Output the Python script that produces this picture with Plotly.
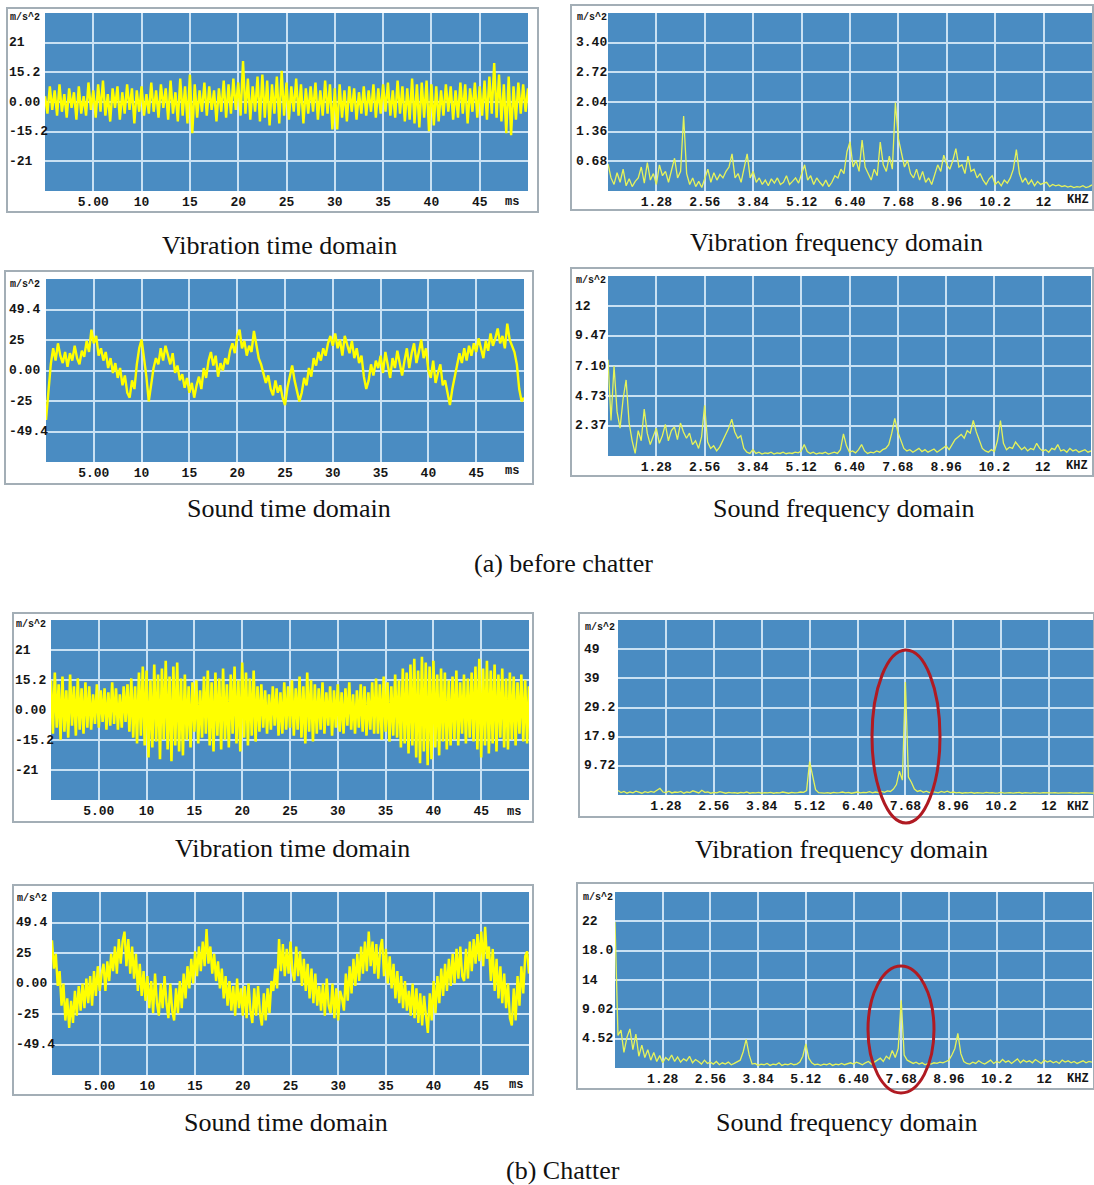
import plotly.graph_objects as go

W, H = 1094, 1185

# ---------------- data ----------------
# (a) before chatter - vibration time domain, 0..50 ms, step 0.25 ms
vib_time_a = [
    3, -6, 8, -4, 6, -7, 9, -5, 4, -8,
    7, -3, 5, -9, 8, -6, 3, -7, 10, -4,
    6, -8, 9, -5, 11, -7, 4, -10, 7, -3,
    8, -9, 5, -6, 9, -4, 7, -11, 6, -5,
    8, -7, 4, -6, 10, -5, 6, -8, 9, -3,
    7, -9, 11, -6, 5, -10, 12, -7, 8, -11,
    14, -16, 9, -8, 6, -5, 10, -7, 8, -4,
    6, -10, 7, -5, 11, -8, 9, -6, 12, -4,
    10, -7, 21, -6, 12, -9, 8, -5, 13, -10,
    14, -8, 11, -12, 9, -6, 13, -11, 16, -7,
    10, -9, 8, -5, 12, -7, 9, -11, 7, -6,
    8, -5, 10, -9, 6, -7, 11, -6, 9, -14,
    7, -14, 9, -8, 6, -10, 8, -5, 7, -9,
    5, -6, 8, -7, 6, -5, 9, -8, 7, -6,
    9, -5, 10, -7, 6, -8, 11, -6, 8, -10,
    7, -9, 12, -11, 9, -13, 10, -8, 11, -15,
    9, -12, 8, -10, 6, -7, 9, -5, 8, -9,
    6, -8, 10, -6, 9, -11, 7, -5, 10, -8,
    8, -7, 11, -9, 13, -6, 20, -8, 14, -10,
    9, -16, 13, -17, 8, -9, 10, -6, 9, -5, 7,
]

# (a) sound time domain, 0..50 ms, step 0.25 ms
sound_time_a = [
    -40, -15, 5, 18, 8, 22, 12, 6, 15, 3,
    14, 8, 20, 10, 5, 16, 11, 24, 15, 33,
    22, 28, 12, 18, 8, 15, 2, 10, -2, 6,
    -6, 2, -12, -4, -18, -22, -8, -15, 5, 18,
    25, 10, -5, -25, -10, 2, 10, 5, 18, 8,
    20, 12, 5, 14, -2, 4, -8, -3, -14, -6,
    -18, -10, -22, -12, -5, -15, 2, -6, 8, 15,
    4, 12, -5, 6, 0, 10, 5, 16, 22, 14,
    28, 33, 18, 24, 12, 20, 15, 32, 20, 10,
    5, -2, -10, -4, -15, -20, -8, -18, -12, -22,
    -28, -14, -5, 4, -8, -16, -25, -18, -6, -12,
    2, -5, 10, 4, 15, 8, 18, 12, 22, 28,
    20, 30, 18, 25, 12, 28, 20, 14, 24, 10,
    18, 6, 12, -5, -15, -8, 5, -4, 8, 2,
    12, -2, 15, 4, -6, 10, 2, 16, 5, -4,
    8, 18, 2, 14, 22, 6, 15, 25, 10, 18,
    0, -6, 8, -10, -2, 5, -12, -8, -18, -28,
    -15, -5, 2, 14, 6, 18, 8, 20, 12, 22,
    15, 26, 18, 10, 24, 16, 30, 20, 26, 34,
    22, 28, 18, 38, 25, 20, 15, 5, -15, -25, -22,
]

# (a) vibration frequency domain, 0..12.8 kHz, step 0.08 kHz
vib_freq_a = [
    0.62, 0.30, 0.15, 0.42, 0.20, 0.50, 0.12, 0.28, 0.10, 0.22,
    0.30, 0.55, 0.18, 0.65, 0.25, 0.40, 0.15, 0.60, 0.35, 0.45,
    0.20, 0.50, 0.75, 0.30, 0.45, 1.72, 0.40, 0.15, 0.30, 0.10,
    0.22, 0.08, 0.30, 0.50, 0.20, 0.42, 0.25, 0.38, 0.30, 0.45,
    0.55, 0.85, 0.30, 0.40, 0.20, 0.55, 0.85, 0.30, 0.45, 0.20,
    0.30, 0.15, 0.25, 0.12, 0.28, 0.18, 0.30, 0.15, 0.20, 0.35,
    0.15, 0.22, 0.30, 0.18, 0.40, 0.60, 0.25, 0.35, 0.15, 0.30,
    0.20, 0.12, 0.25, 0.10, 0.20, 0.35, 0.30, 0.50, 0.40, 0.90,
    1.13, 0.55, 0.70, 0.45, 1.17, 0.55, 0.40, 0.25, 0.50, 0.35,
    1.12, 0.60, 0.45, 0.80, 0.50, 2.03, 1.20, 0.85, 0.55, 0.70,
    0.40, 0.30, 0.50, 0.25, 0.45, 0.20, 0.30, 0.15, 0.40, 0.60,
    0.45, 0.82, 0.60, 0.50, 0.70, 0.97, 0.55, 0.60, 0.40, 0.80,
    0.45, 0.50, 0.30, 0.40, 0.25, 0.15, 0.28, 0.35, 0.15, 0.22,
    0.12, 0.25, 0.18, 0.30, 0.50, 0.95, 0.40, 0.20, 0.30, 0.15,
    0.25, 0.12, 0.22, 0.15, 0.18, 0.20, 0.10, 0.15, 0.12, 0.14,
    0.10, 0.12, 0.09, 0.11, 0.08, 0.10, 0.09, 0.12, 0.08, 0.10, 0.14,
]

# (a) sound frequency domain, 0..12.8 kHz, step 0.08 kHz
sound_freq_a = [
    7.6, 2.8, 7.1, 3.5, 2.2, 4.5, 6.0, 2.6, 1.2, 0.2,
    2.0, 1.2, 3.7, 1.8, 0.9, 1.5, 2.2, 1.0, 1.6, 2.5,
    1.2, 2.0, 2.3, 1.3, 2.6, 1.9, 1.4, 1.8, 0.9, 1.2,
    0.6, 1.5, 4.0, 1.1, 0.6, 0.8, 0.4, 0.7, 1.2, 1.8,
    2.2, 2.9, 1.9, 1.4, 1.6, 0.6, 0.3, 0.2, 0.5, 0.2,
    0.3, 0.15, 0.25, 0.2, 0.3, 0.15, 0.25, 0.2, 0.3, 0.18,
    0.25, 0.2, 0.3, 0.25, 0.4, 0.9, 0.35, 0.2, 0.3, 0.15,
    0.25, 0.2, 0.3, 0.15, 0.25, 0.3, 0.2, 0.5, 1.75, 0.8,
    0.3, 0.4, 0.25, 0.5, 0.9, 0.4, 0.2, 0.3, 0.25, 0.4,
    0.3, 0.5, 0.6, 0.9, 1.8, 2.96, 1.9, 1.2, 0.6, 0.4,
    0.5, 0.3, 0.45, 0.6, 0.35, 0.5, 0.3, 0.4, 0.55, 0.3,
    0.45, 0.6, 0.8, 0.5, 0.9, 1.3, 1.5, 1.7, 1.4, 2.0,
    1.8, 2.8, 1.9, 1.2, 0.6, 0.4, 0.3, 0.5, 0.35, 1.2,
    2.8, 1.0, 0.5, 0.7, 0.6, 1.1, 0.8, 0.5, 0.7, 0.4,
    0.6, 0.5, 1.0, 0.6, 0.4, 0.5, 0.3, 0.6, 0.5, 0.9,
    0.4, 0.5, 0.3, 0.6, 0.4, 0.5, 0.3, 0.4, 0.5, 0.3, 0.4,
]

# (b) chatter - vibration time domain, 0..50 ms, step 0.2 ms
vib_time_b = [
    15, -12, 19, -9, 13, -15, 17, -11, 10, -14,
    18, -8, 12, -13, 16, -10, 11, -12, 14, -9,
    12, -10, 8, -7, 13, -9, 10, -6, 11, -10,
    9, -8, 14, -7, 11, -10, 8, -9, 12, -6,
    13, -11, 16, -14, 12, -17, 19, -13, 22, -18,
    20, -24, 15, -19, 23, -16, 18, -25, 21, -15,
    25, -20, 17, -26, 22, -18, 24, -21, 16, -23,
    18, -15, 12, -19, 14, -11, 15, -17, 10, -14,
    17, -12, 20, -18, 14, -21, 19, -13, 16, -20,
    21, -15, 13, -19, 18, -12, 22, -17, 15, -21,
    24, -14, 19, -18, 16, -13, 20, -16, 12, -11,
    13, -9, 10, -12, 8, -10, 12, -8, 11, -13,
    9, -12, 14, -10, 12, -9, 15, -13, 11, -10,
    17, -14, 12, -17, 19, -11, 15, -16, 13, -12,
    11, -10, 14, -12, 9, -8, 12, -13, 10, -9,
    13, -11, 9, -12, 11, -8, 14, -10, 8, -12,
    10, -9, 13, -11, 12, -13, 9, -10, 14, -12,
    16, -12, 13, -15, 17, -11, 14, -16, 12, -13,
    18, -14, 15, -19, 21, -17, 19, -22, 23, -18,
    26, -24, 20, -27, 27, -21, 24, -28, 22, -25,
    25, -19, 18, -23, 21, -16, 19, -20, 15, -18,
    17, -15, 20, -18, 14, -12, 18, -17, 16, -14,
    19, -16, 22, -20, 26, -24, 21, -18, 25, -22,
    20, -17, 23, -21, 18, -14, 21, -19, 16, -20,
    19, -15, 17, -18, 14, -12, 18, -16, 15, -17, 12,
]

# (b) sound time domain, 0..50 ms, step 0.2 ms
sound_time_b = [
    35, 12, 24, -2, 10, -18, 0, -30, -12, -36,
    -14, -32, -6, -26, -2, -22, 0, -20, 4, -16,
    6, -18, 10, -10, 14, -6, 8, 16, -6, 18,
    2, 24, 10, 30, 8, 36, 16, 34, 42, 14,
    36, 8, 30, 4, 24, -6, 16, -10, 10, -14,
    6, -20, 2, -24, 8, -16, -26, 0, -20, 6,
    -16, -28, 0, -22, -30, -4, -24, 2, -20, 8,
    -12, 14, -4, 20, 0, 26, 6, 30, 10, 34,
    14, 44, 16, 30, 8, 24, 2, 18, -4, 12,
    -12, 6, -18, 2, -22, -2, -26, 4, -20, -4,
    -26, -2, -28, 0, -22, -32, -4, -26, -2, -24,
    -34, -8, -30, -4, -24, 2, -6, 12, -4, 36,
    10, 32, 6, 28, 8, 34, 10, 2, 30, 6,
    26, -2, 20, -6, 16, -12, 12, -16, 8, -18,
    -2, -22, 0, -26, 4, -18, -24, 0, -28, -4,
    -30, -6, -12, -22, 8, -14, 14, -8, 20, -2,
    24, 2, 30, 8, 34, 10, 42, 14, 34, 8,
    32, 4, 28, 36, 6, 28, 0, 22, -4, 16,
    -12, 10, -16, 6, -20, 2, -22, -6, -26, 0,
    -28, -4, -32, -8, -34, -10, -26, -40, -8, -30,
    2, -24, 6, -16, 12, -10, 16, -6, 20, -2,
    24, 0, 28, 4, 30, 6, 2, 28, 4, 34,
    10, 36, 16, 40, 18, 42, 14, 46, 20, 30,
    2, 28, -6, 20, -12, 14, -16, 8, -20, 0,
    -28, -34, -4, -30, 6, -18, 14, -8, 22, 26, 8,
]

# (b) vibration frequency domain, 0..12.8 kHz, step 0.08 kHz
vib_freq_b = [
    1.5, 0.8, 1.2, 0.6, 1.0, 0.7, 1.3, 0.9, 0.6, 1.1,
    0.8, 1.2, 0.9, 1.6, 2.2, 1.0, 0.8, 1.3, 0.7, 1.0,
    0.9, 1.2, 0.6, 1.0, 0.8, 1.4, 1.1, 0.7, 1.6, 0.9,
    1.0, 0.6, 0.9, 0.7, 1.1, 0.8, 0.6, 0.9, 0.7, 0.8,
    0.6, 0.9, 0.7, 1.0, 0.6, 0.8, 0.7, 0.9, 0.6, 0.8,
    0.7, 0.9, 0.6, 0.8, 0.7, 1.0, 0.8, 0.6, 0.9, 0.7,
    0.8, 1.0, 0.9, 1.5, 11.2, 7.0, 1.8, 0.8, 0.7, 0.6,
    0.8, 0.6, 0.9, 0.7, 0.8, 1.0, 0.7, 0.9, 0.6, 0.8,
    1.0, 0.7, 0.9, 0.8, 1.1, 0.7, 1.0, 0.8, 1.2, 0.9,
    1.4, 1.2, 2.0, 3.5, 8.0, 5.0, 38.0, 6.0, 4.3, 2.0,
    1.2, 1.5, 0.9, 1.3, 0.8, 1.1, 1.0, 0.7, 1.2, 0.9,
    1.3, 0.8, 1.0, 0.7, 0.9, 0.6, 0.8, 0.7, 0.9, 0.6,
    0.8, 0.7, 0.6, 0.9, 0.7, 0.8, 0.6, 0.7, 0.9, 0.6,
    0.7, 0.8, 0.6, 0.7, 0.9, 0.6, 0.8, 0.7, 0.6, 0.8,
    0.7, 0.6, 0.8, 0.7, 0.6, 0.7, 0.8, 0.6, 0.7, 0.6,
    0.7, 0.8, 0.6, 0.7, 0.6, 0.8, 0.7, 0.6, 0.7, 0.6, 0.7,
]

# (b) sound frequency domain, 0..12.8 kHz, step 0.08 kHz
sound_freq_b = [
    22.4, 5.0, 5.8, 2.4, 4.7, 6.0, 2.8, 5.2, 1.8, 3.5,
    1.6, 2.8, 1.2, 2.4, 1.0, 1.9, 0.8, 1.6, 1.2, 2.0,
    1.0, 1.7, 0.9, 1.4, 1.1, 1.8, 0.8, 1.3, 1.0, 0.6,
    1.2, 0.7, 0.9, 0.6, 1.0, 0.5, 0.8, 0.6, 0.9, 0.5,
    0.7, 0.9, 1.2, 2.5, 4.4, 2.0, 0.6, 0.7, 0.4, 0.6,
    0.5, 0.7, 0.4, 0.6, 0.5, 0.8, 0.4, 0.6, 0.5, 0.7,
    0.5, 0.6, 0.9, 1.8, 3.7, 1.5, 0.8, 0.5, 0.6, 0.4,
    0.6, 0.5, 0.7, 0.4, 0.6, 0.5, 0.7, 0.5, 0.6, 0.8,
    0.6, 0.9, 0.7, 0.5, 0.8, 1.0, 0.6, 0.9, 1.2, 1.5,
    1.0, 1.8, 1.4, 2.7, 1.6, 3.0, 10.4, 2.0, 1.2, 0.9,
    0.7, 0.9, 0.6, 0.8, 0.5, 0.7, 0.6, 0.8, 0.7, 0.9,
    0.8, 1.0, 1.2, 2.0, 3.0, 5.3, 2.2, 1.0, 0.7, 0.6,
    0.9, 0.7, 1.1, 0.8, 0.6, 0.9, 1.2, 0.7, 1.0, 0.8,
    1.3, 0.9, 1.1, 0.7, 1.0, 1.4, 0.8, 1.2, 0.9, 1.1,
    0.8, 1.3, 1.0, 0.7, 1.2, 0.9, 1.1, 0.8, 1.0, 0.7,
    1.2, 0.9, 1.1, 0.8, 1.0, 0.7, 0.9, 1.1, 0.8, 1.0, 0.9,
]

# tick values / labels
time_ticks = [5, 10, 15, 20, 25, 30, 35, 40, 45]
time_ticktext = ["5.00", "10", "15", "20", "25", "30", "35", "40", "45"]
freq_ticks = [1.28, 2.56, 3.84, 5.12, 6.40, 7.68, 8.96, 10.24, 11.52]
freq_ticktext = ["1.28", "2.56", "3.84", "5.12", "6.40", "7.68", "8.96", "10.2", "12"]

vib_time_yticks = [30.4, 15.2, 0, -15.2, -30.4]
vib_time_ylabels = ["21", "15.2", "0.00", "-15.2", "-21"]
sound_time_yticks = [49.4, 24.7, 0, -24.7, -49.4]
sound_time_ylabels = ["49.4", "25", "0.00", "-25", "-49.4"]
vib_freq_a_yticks = [3.40, 2.72, 2.04, 1.36, 0.68]
vib_freq_a_ylabels = ["3.40", "2.72", "2.04", "1.36", "0.68"]
sound_freq_a_yticks = [11.83, 9.47, 7.10, 4.73, 2.37]
sound_freq_a_ylabels = ["12", "9.47", "7.10", "4.73", "2.37"]
vib_freq_b_yticks = [49.0, 39.2, 29.4, 19.6, 9.8]
vib_freq_b_ylabels = ["49", "39", "29.2", "17.9", "9.72"]
sound_freq_b_yticks = [22.5, 18.0, 13.5, 9.0, 4.5]
sound_freq_b_ylabels = ["22", "18.0", "14", "9.02", "4.52"]

captions = [
    ("Vibration time domain", 279, 245),
    ("Vibration frequency domain", 836, 243),
    ("Sound time domain", 289, 508),
    ("Sound frequency domain", 843, 508),
    ("(a) before chatter", 563, 563),
    ("Vibration time domain", 292, 848),
    ("Vibration frequency domain", 841, 849),
    ("Sound time domain", 286, 1122),
    ("Sound frequency domain", 846, 1122),
    ("(b) Chatter", 563, 1170),
]

# ---------------- layout / style ----------------
BLUE = "#4a8cc2"
GRID = "#c9e1f3"
YELLOW_T = "#ffff00"
YELLOW_F = "#e6f35a"
MONO = "Liberation Mono, DejaVu Sans Mono, monospace"
SERIF = "Liberation Serif, Times New Roman, serif"


def fx(p):
    return p / W


def fy(p):
    return 1 - p / H


panels = [
    dict(y=vib_time_a, dx=0.25, kind="t", blue=(45, 13, 528, 191), border=(7, 8, 538, 212),
         yr=[-45.6, 45.6], yt=vib_time_yticks, yl=vib_time_ylabels, lx=7, uy=17,
         xr=[0, 50], ux=512, uyb=202, lw=2.4),
    dict(y=vib_freq_a, dx=0.08, kind="f", blue=(608, 13, 1092, 191), border=(571, 5, 1093, 210),
         yr=[0, 4.08], yt=vib_freq_a_yticks, yl=vib_freq_a_ylabels, lx=574, uy=17,
         xr=[0, 12.8], ux=1078, uyb=200, lw=1.3),
    dict(y=sound_time_a, dx=0.25, kind="t", blue=(46, 279, 524, 462), border=(5, 271, 533, 484),
         yr=[-74.1, 74.1], yt=sound_time_yticks, yl=sound_time_ylabels, lx=7, uy=284,
         xr=[0, 50], ux=512, uyb=471, lw=2.4),
    dict(y=sound_freq_a, dx=0.08, kind="f", blue=(608, 276, 1091, 456), border=(571, 268, 1093, 476),
         yr=[0, 14.2], yt=sound_freq_a_yticks, yl=sound_freq_a_ylabels, lx=573, uy=281,
         xr=[0, 12.8], ux=1077, uyb=466, lw=1.3),
    dict(y=vib_time_b, dx=0.2, kind="t", blue=(51, 620, 529, 800), border=(13, 613, 533, 822),
         yr=[-45.6, 45.6], yt=vib_time_yticks, yl=vib_time_ylabels, lx=13, uy=624,
         xr=[0, 50], ux=514, uyb=812, lw=2.6),
    dict(y=vib_freq_b, dx=0.08, kind="f", blue=(618, 620, 1094, 795), border=(579, 613, 1094, 817),
         yr=[0, 58.8], yt=vib_freq_b_yticks, yl=vib_freq_b_ylabels, lx=582, uy=627,
         xr=[0, 12.72], ux=1078, uyb=807, lw=1.3),
    dict(y=sound_time_b, dx=0.2, kind="t", blue=(52, 892, 529, 1075), border=(13, 885, 533, 1095),
         yr=[-74.1, 74.1], yt=sound_time_yticks, yl=sound_time_ylabels, lx=14, uy=898,
         xr=[0, 50], ux=516, uyb=1085, lw=2.4),
    dict(y=sound_freq_b, dx=0.08, kind="f", blue=(615, 892, 1092, 1068), border=(577, 883, 1094, 1089),
         yr=[0, 27], yt=sound_freq_b_yticks, yl=sound_freq_b_ylabels, lx=580, uy=897,
         xr=[0, 12.8], ux=1078, uyb=1079, lw=1.3),
]

fig = go.Figure()
layout = dict(
    width=W, height=H, margin=dict(l=0, r=0, t=0, b=0),
    paper_bgcolor="white", plot_bgcolor=BLUE, showlegend=False,
)
shapes = []
annotations = []
TICKFONT = dict(family=MONO, size=13, color="#151515", weight="bold")

for i, p in enumerate(panels, start=1):
    sx = "" if i == 1 else str(i)
    xa, ya = "x" + sx, "y" + sx
    x0, y0, x1, y1 = p["blue"]
    is_time = p["kind"] == "t"
    fig.add_trace(go.Scatter(
        y=p["y"], x0=0, dx=p["dx"], mode="lines",
        line=dict(color=YELLOW_T if is_time else YELLOW_F, width=p["lw"]),
        xaxis=xa, yaxis=ya, hoverinfo="skip", cliponaxis=True,
    ))
    layout["xaxis" + sx] = dict(
        domain=[fx(x0), min(fx(x1), 1.0)], range=p["xr"], anchor=ya,
        tickmode="array",
        tickvals=time_ticks if is_time else freq_ticks,
        ticktext=time_ticktext if is_time else freq_ticktext,
        showgrid=True, gridcolor=GRID, gridwidth=2, zeroline=False, showline=False,
        ticks="", ticklabelstandoff=1,
        tickfont=TICKFONT,
        fixedrange=True,
    )
    layout["yaxis" + sx] = dict(
        domain=[fy(y1), fy(y0)], range=p["yr"], anchor=xa,
        tickmode="array", tickvals=p["yt"], showticklabels=False,
        showgrid=True, gridcolor=GRID, gridwidth=2, zeroline=False, showline=False,
        ticks="", fixedrange=True,
    )
    # window frame
    bx0, by0, bx1, by1 = p["border"]
    shapes.append(dict(type="rect", xref="paper", yref="paper",
                       x0=fx(bx0), x1=fx(bx1), y0=fy(by1), y1=fy(by0),
                       line=dict(color="#a3aeb6", width=2), fillcolor="rgba(0,0,0,0)",
                       layer="below"))
    # y tick labels (left aligned, as in the instrument software)
    for v, t in zip(p["yt"], p["yl"]):
        annotations.append(dict(text=t, x=fx(p["lx"]), xref="paper", y=v, yref=ya,
                                xanchor="left", yanchor="middle", showarrow=False,
                                font=TICKFONT))
    # unit label
    annotations.append(dict(text="m/s^2", x=fx(p["lx"] + 1), xref="paper", y=fy(p["uy"]),
                            yref="paper", xanchor="left", yanchor="middle", showarrow=False,
                            font=dict(family=MONO, size=10, color="#151515", weight="bold")))
    # x unit label
    annotations.append(dict(text="ms" if is_time else "KHZ", x=fx(p["ux"]), xref="paper",
                            y=fy(p["uyb"]), yref="paper", xanchor="center", yanchor="middle",
                            showarrow=False,
                            font=dict(family=MONO, size=12, color="#151515", weight="bold")))

# red ellipses marking the chatter frequency
for (ex0, ey0, ex1, ey1) in [(872, 650, 940, 823), (868, 966, 934, 1093)]:
    shapes.append(dict(type="circle", xref="paper", yref="paper",
                       x0=fx(ex0), x1=fx(ex1), y0=fy(ey1), y1=fy(ey0),
                       line=dict(color="#b01a22", width=3), layer="above"))

for text, cx, cy in captions:
    annotations.append(dict(text=text, x=fx(cx), y=fy(cy), xref="paper", yref="paper",
                            xanchor="center", yanchor="middle", showarrow=False,
                            font=dict(family=SERIF, size=26, color="#111111")))

layout["shapes"] = shapes
layout["annotations"] = annotations
fig.update_layout(**layout)
fig.write_html(
    "out.html",
    config={"displayModeBar": False, "staticPlot": True},
    post_script="document.body.style.margin='0px';document.body.style.padding='0px';"
                "document.body.style.overflow='hidden';",
)
